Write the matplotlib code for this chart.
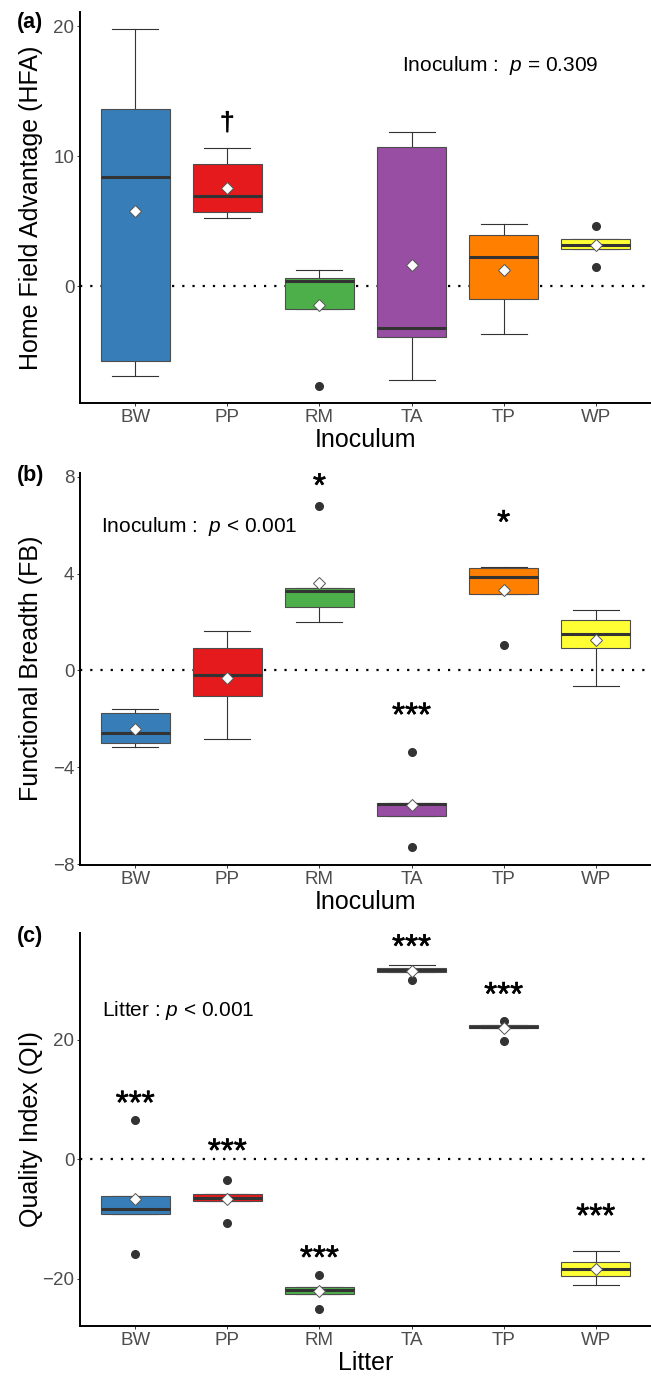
import matplotlib
matplotlib.use("Agg")
import matplotlib.pyplot as plt
import matplotlib.patheffects as pe

plt.rcParams['font.family'] = ['Liberation Sans', 'DejaVu Sans']
plt.rcParams['mathtext.fontset'] = 'custom'
plt.rcParams['mathtext.rm'] = 'Liberation Sans'
plt.rcParams['mathtext.it'] = 'Liberation Sans:italic'

categories = ['BW', 'PP', 'RM', 'TA', 'TP', 'WP']
colors = ['#377EB8', '#E41A1C', '#4DAF4A', '#984EA3', '#FF7F00', '#FFFF33']

# Panel (a) Home Field Advantage
hfa_q1 = [-5.77, 5.67, -1.74, -3.92, -1.03, 2.87]
hfa_med = [8.4, 6.95, 0.38, -3.26, 2.23, 3.13]
hfa_q3 = [13.6, 9.4, 0.59, 10.7, 3.92, 3.59]
hfa_wlo = [-6.9, 5.26, -1.74, -7.23, -3.7, 2.87]
hfa_whi = [19.8, 10.6, 1.23, 11.85, 4.8, 3.59]
hfa_mean = [5.8, 7.56, -1.44, 1.6, 1.23, 3.15]
hfa_out = [[], [], [-7.7], [], [], [4.64, 1.49]]
hfa_sig = ['', '\u2020', '', '', '', '']
hfa_sig_y = [0, 12.6, 0, 0, 0, 0]

# Panel (b) Functional Breadth
fb_q1 = [-2.98, -1.06, 2.62, -6.0, 3.14, 0.94]
fb_med = [-2.59, -0.17, 3.29, -5.51, 3.86, 1.52]
fb_q3 = [-1.76, 0.91, 3.4, -5.48, 4.23, 2.08]
fb_wlo = [-3.14, -2.81, 2.02, -6.0, 3.14, -0.66]
fb_whi = [-1.6, 1.61, 3.4, -5.48, 4.26, 2.5]
fb_mean = [-2.4, -0.32, 3.62, -5.54, 3.31, 1.27]
fb_out = [[], [], [6.8], [-3.37, -7.3], [1.05], []]
fb_sig = ['', '', '*', '***', '*', '']
fb_sig_y = [0, 0, 7.77, -1.7, 6.25, 0]

# Panel (c) Quality Index
qi_q1 = [-9.2, -6.9, -22.5, 31.3, 22.0, -19.6]
qi_med = [-8.3, -6.4, -21.9, 31.7, 22.2, -18.3]
qi_q3 = [-6.1, -5.75, -21.3, 32.1, 22.5, -17.2]
qi_wlo = [-9.2, -6.9, -22.5, 31.3, 22.0, -21.1]
qi_whi = [-6.1, -5.75, -21.3, 32.5, 22.5, -15.3]
qi_mean = [-6.7, -6.7, -22.1, 31.5, 22.0, -18.3]
qi_out = [[6.6, -15.9], [-3.5, -10.6], [-19.4, -25.0], [30.0], [23.2, 19.8], []]
qi_sig = ['***'] * 6
qi_sig_y = [10.0, 2.0, -15.9, 36.2, 28.2, -8.9]

panels = [
    dict(q1=hfa_q1, med=hfa_med, q3=hfa_q3, wlo=hfa_wlo, whi=hfa_whi, mean=hfa_mean,
         out=hfa_out, sig=hfa_sig, sigy=hfa_sig_y, ylim=(-9.0, 21.1), yticks=[0, 10, 20],
         ylabel='Home Field Advantage (HFA)', xlabel='Inoculum', tag='(a)',
         note=r'Inoculum :  $p$ = 0.309', note_xy=(4.96, 17.0),
         rect=[0.1229, 0.7071, 0.8771, 0.2842], tag_y=0.9797),
    dict(q1=fb_q1, med=fb_med, q3=fb_q3, wlo=fb_wlo, whi=fb_whi, mean=fb_mean,
         out=fb_out, sig=fb_sig, sigy=fb_sig_y, ylim=(-8.03, 8.165), yticks=[-8, -4, 0, 4, 8],
         ylabel='Functional Breadth (FB)', xlabel='Inoculum', tag='(b)',
         note=r'Inoculum :  $p$ < 0.001', note_xy=(1.70, 5.95),
         rect=[0.1229, 0.3714, 0.8771, 0.2851], tag_y=0.6506),
    dict(q1=qi_q1, med=qi_med, q3=qi_q3, wlo=qi_wlo, whi=qi_whi, mean=qi_mean,
         out=qi_out, sig=qi_sig, sigy=qi_sig_y, ylim=(-27.9, 37.9), yticks=[-20, 0, 20],
         ylabel='Quality Index (QI)', xlabel='Litter', tag='(c)',
         note=r'Litter : $p$ < 0.001', note_xy=(1.47, 24.9),
         rect=[0.1229, 0.0363, 0.8771, 0.2856], tag_y=0.3152),
]

fig = plt.figure(figsize=(6.51, 13.76), dpi=100)
positions = list(range(1, len(categories) + 1))
edge = '#333333'

for p in panels:
    ax = fig.add_axes(p['rect'])
    stats = []
    for i in range(len(categories)):
        stats.append(dict(label=categories[i], q1=p['q1'][i], med=p['med'][i], q3=p['q3'][i],
                          whislo=p['wlo'][i], whishi=p['whi'][i], mean=p['mean'][i],
                          fliers=p['out'][i]))
    ax.axhline(0, color='black', lw=1.6, ls=(0, (1, 3.6)), zorder=0.5)
    bp = ax.bxp(stats, positions=positions, widths=0.75, capwidths=0.5,
                patch_artist=True, showmeans=True,
                boxprops=dict(edgecolor='#4d4d4d', linewidth=0.8),
                medianprops=dict(color=edge, linewidth=2.2),
                whiskerprops=dict(color=edge, linewidth=0.8),
                capprops=dict(color=edge, linewidth=0.8),
                flierprops=dict(marker='o', markerfacecolor=edge, markeredgecolor=edge,
                                markersize=5.5),
                meanprops=dict(marker='D', markerfacecolor='white', markeredgecolor='#555555',
                               markeredgewidth=0.7, markersize=6.5))
    for patch, c in zip(bp['boxes'], colors):
        patch.set_facecolor(c)
        patch.set_zorder(2.2)
    for m in bp['medians']:
        m.set_zorder(2.4)
    for m in bp['means']:
        m.set_zorder(3)
    for i, s in enumerate(p['sig']):
        if not s:
            continue
        if s == '\u2020':
            fs = 19
            off = -0.30 * fs
            eff = [pe.withStroke(linewidth=0.4, foreground='black')]
        else:
            fs = 24
            off = -0.42 * fs
            eff = [pe.withStroke(linewidth=0.45, foreground='black')]
        ax.annotate(s, (positions[i], p['sigy'][i]), xytext=(0, off), textcoords='offset points',
                    ha='center', va='baseline', fontsize=fs, color='black', path_effects=eff)
    ax.text(p['note_xy'][0], p['note_xy'][1], p['note'], ha='center', va='center',
            fontsize=15, color='black')
    ax.set_xlim(0.4, 6.6)
    ax.set_ylim(*p['ylim'])
    ax.set_yticks(p['yticks'])
    ax.set_xticks(positions)
    ax.set_xticklabels(categories)
    for sp in ['top', 'right']:
        ax.spines[sp].set_visible(False)
    for sp in ['left', 'bottom']:
        ax.spines[sp].set_linewidth(1.4)
        ax.spines[sp].set_color('black')
    ax.tick_params(axis='both', length=2.5, width=0.7, color='#333333', labelsize=13.5,
                   labelcolor='#4D4D4D', pad=1.5)
    ax.set_xlabel(p['xlabel'], fontsize=18, labelpad=1.5)
    ax.set_ylabel(p['ylabel'], fontsize=18)
    ax.yaxis.set_label_coords(-0.065, 0.5)
    fig.text(17 / 651, p['tag_y'], p['tag'], fontsize=15.5, fontweight='bold', ha='left',
             va='baseline')

fig.savefig('out.png', dpi=100)
